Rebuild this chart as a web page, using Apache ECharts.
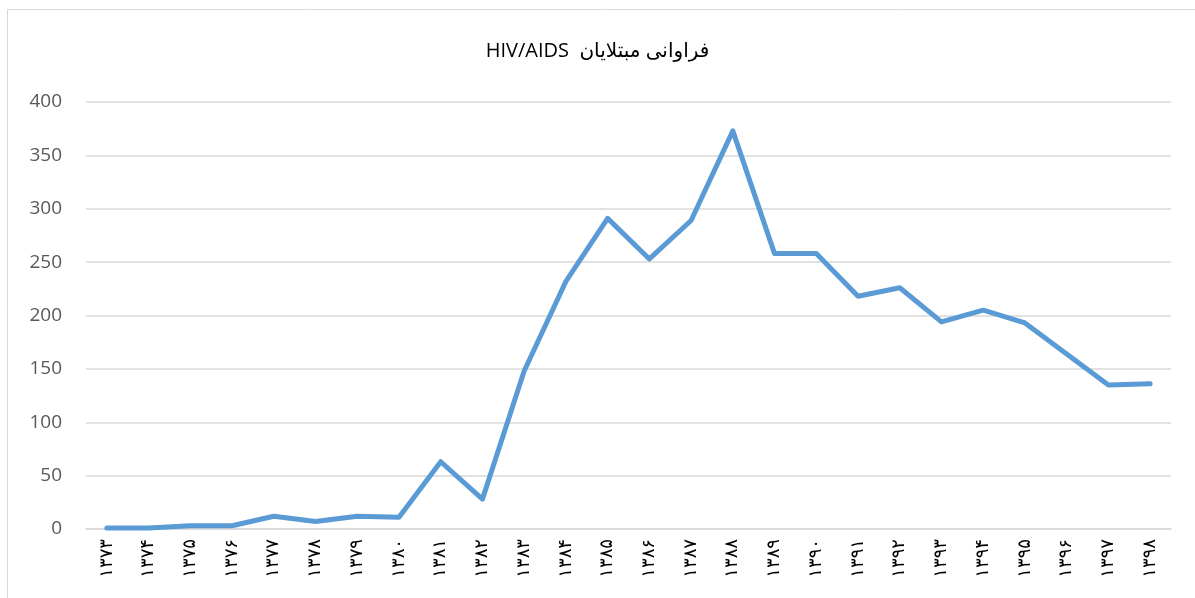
<!DOCTYPE html>
<html>
<head>
<meta charset="utf-8">
<script src="https://cdn.jsdelivr.net/npm/echarts@6/dist/echarts.min.js"></script>
<style>
  html, body { margin: 0; padding: 0; background: #fff; }
  #main { width: 1195px; height: 598px; }
</style>
</head>
<body>
<div id="main"></div>
<script>
// years 1373..1398, Persian digits
var years = ['۱۳۷۳', '۱۳۷۴', '۱۳۷۵', '۱۳۷۶', '۱۳۷۷', '۱۳۷۸', '۱۳۷۹', '۱۳۸۰', '۱۳۸۱', '۱۳۸۲',
             '۱۳۸۳', '۱۳۸۴', '۱۳۸۵', '۱۳۸۶', '۱۳۸۷', '۱۳۸۸', '۱۳۸۹', '۱۳۹۰', '۱۳۹۱', '۱۳۹۲',
             '۱۳۹۳', '۱۳۹۴', '۱۳۹۵', '۱۳۹۶', '۱۳۹۷', '۱۳۹۸'];
var cases = [1, 1, 3, 3, 12, 7, 12, 11, 63, 28,
             148, 232, 291, 253, 289, 373, 258, 258, 218, 226,
             194, 205, 193, 164, 135, 136];
var yTicks = [0, 400, 50]; // min, max, step
var titleText = 'HIV/AIDS  فراوانی مبتلایان';

var chart = echarts.init(document.getElementById('main'));
chart.setOption({
    animation: false,
    backgroundColor: '#ffffff',
    title: {
        text: titleText,
        left: 'center',
        top: 36,
        textStyle: {
            fontFamily: 'Open Sans, DejaVu Sans, sans-serif',
            fontSize: 20,
            fontWeight: 'normal',
            color: '#000000'
        }
    },
    graphic: [{
        type: 'rect',
        shape: { x: 7.5, y: 9.5, width: 1200, height: 600 },
        style: { fill: 'none', stroke: '#d9d9d9', lineWidth: 1 },
        silent: true
    }],
    grid: { left: 86, right: 24, top: 102, bottom: 69 },
    xAxis: {
        type: 'category',
        data: years,
        boundaryGap: true,
        axisLine: { lineStyle: { color: '#d9d9d9', width: 1.5 } },
        axisTick: { show: false },
        axisLabel: {
            rotate: 90,
            interval: 0,
            margin: 10,
            fontSize: 18,
            fontFamily: 'DejaVu Sans, sans-serif',
            color: '#000000'
        }
    },
    yAxis: {
        type: 'value',
        min: yTicks[0],
        max: yTicks[1],
        interval: yTicks[2],
        axisLine: { show: false },
        axisTick: { show: false },
        axisLabel: {
            margin: 24,
            fontSize: 19,
            fontFamily: 'Open Sans, Liberation Sans, sans-serif',
            color: '#595959'
        },
        splitLine: { lineStyle: { color: '#d9d9d9', width: 1.5 } }
    },
    series: [{
        type: 'line',
        data: cases,
        showSymbol: false,
        symbol: 'none',
        lineStyle: { color: '#5b9bd5', width: 5, cap: 'round', join: 'round' },
        itemStyle: { color: '#5b9bd5' }
    }]
});
</script>
</body>
</html>
